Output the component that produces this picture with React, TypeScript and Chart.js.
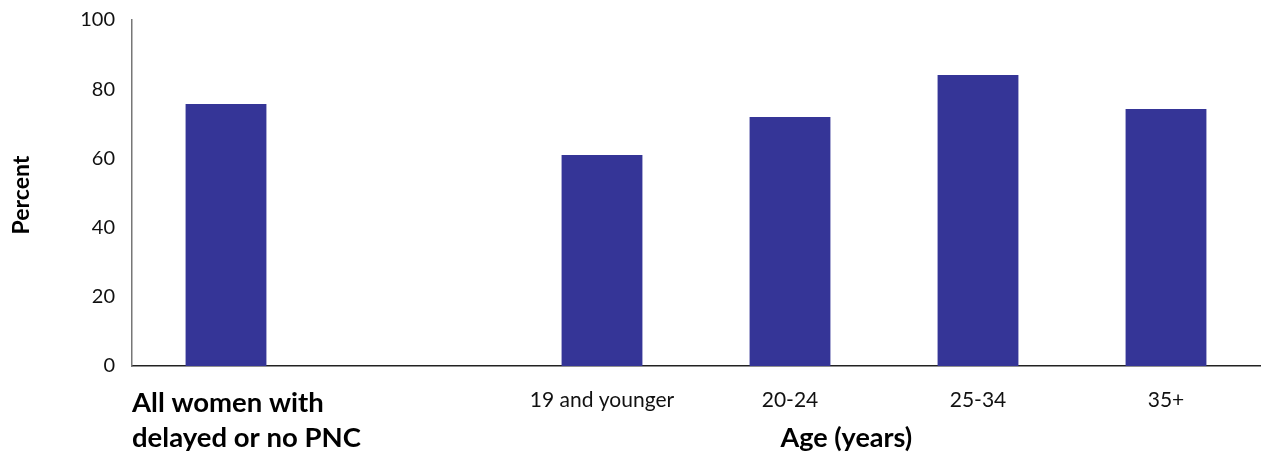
import React, { useEffect, useRef } from "react";
import { Chart, registerables } from "chart.js";

Chart.register(...registerables);

const categories = ["All women with delayed or no PNC", "", "19 and younger", "20-24", "25-34", "35+"];
const values: (number | null)[] = [75.7, null, 61.0, 72.0, 84.1, 74.3];
const yTicks = [0, 20, 40, 60, 80, 100];
const firstLabelLines = ["All women with", "delayed or no PNC"];
const groupTitle = "Age (years)";
const yTitle = "Percent";

const REG = "Lato, 'Open Sans', sans-serif";

const labelPlugin = {
  id: "customLabels",
  afterDraw(chart: any) {
    const { ctx, chartArea } = chart;
    const x = chart.scales.x;
    ctx.save();
    ctx.fillStyle = "#000";
    // first label, bold two lines, left aligned
    ctx.font = `bold 27.5px ${REG}`;
    ctx.textAlign = "left";
    ctx.textBaseline = "alphabetic";
    ctx.fillText(firstLabelLines[0], chartArea.left, chartArea.bottom + 46);
    ctx.fillText(firstLabelLines[1], chartArea.left, chartArea.bottom + 81);
    // age labels
    ctx.font = `21px ${REG}`;
    ctx.textAlign = "center";
    ctx.textBaseline = "middle";
    ctx.fillStyle = "#111";
    for (let i = 2; i < categories.length; i++) {
      ctx.fillText(categories[i], x.getPixelForValue(i), chartArea.bottom + 34);
    }
    ctx.fillStyle = "#000";
    ctx.font = `bold 27px ${REG}`;
    ctx.fillText(groupTitle, x.getPixelForValue(3.3), chartArea.bottom + 72);
    // y title
    ctx.translate(22, (chartArea.top + chartArea.bottom) / 2 + 2);
    ctx.rotate(-Math.PI / 2);
    ctx.font = `bold 23px ${REG}`;
    ctx.fillText(yTitle, 0, 0);
    ctx.restore();
  },
};

export default function App() {
  const ref = useRef<HTMLCanvasElement>(null);
  useEffect(() => {
    const chart = new Chart(ref.current!, {
      type: "bar",
      data: {
        labels: categories,
        datasets: [
          {
            data: values,
            backgroundColor: "#353597",
            barPercentage: 0.43,
            categoryPercentage: 1,
          },
        ],
      },
      options: {
        animation: false,
        responsive: true,
        maintainAspectRatio: false,
        layout: { autoPadding: false, padding: { top: 20, right: 2, left: 0, bottom: 0 } },
        plugins: { legend: { display: false }, tooltip: { enabled: false } },
        scales: {
          x: {
            grid: { display: false, drawTicks: false },
            border: { color: "#222", width: 1.5 },
            ticks: { display: false },
            afterFit(s: any) {
              s.height = 94;
              s.paddingLeft = 0;
              s.paddingRight = 0;
            },
          },
          y: {
            min: 0,
            max: 100,
            afterBuildTicks(s: any) {
              s.ticks = yTicks.map((v) => ({ value: v }));
            },
            grid: { display: false, drawTicks: false },
            border: { color: "#777", width: 1.5 },
            ticks: {
              padding: 17,
              color: "#111",
              font: { family: REG, size: 20 },
            },
            afterFit(s: any) {
              s.width = 132;
              s.paddingTop = 0;
              s.paddingBottom = 0;
            },
          },
        },
      },
      plugins: [labelPlugin],
    });
    return () => chart.destroy();
  }, []);
  return (
    <div style={{ position: "fixed", left: 0, top: 0, width: 1262, height: 460, background: "#fff" }}>
      <canvas ref={ref} />
    </div>
  );
}
